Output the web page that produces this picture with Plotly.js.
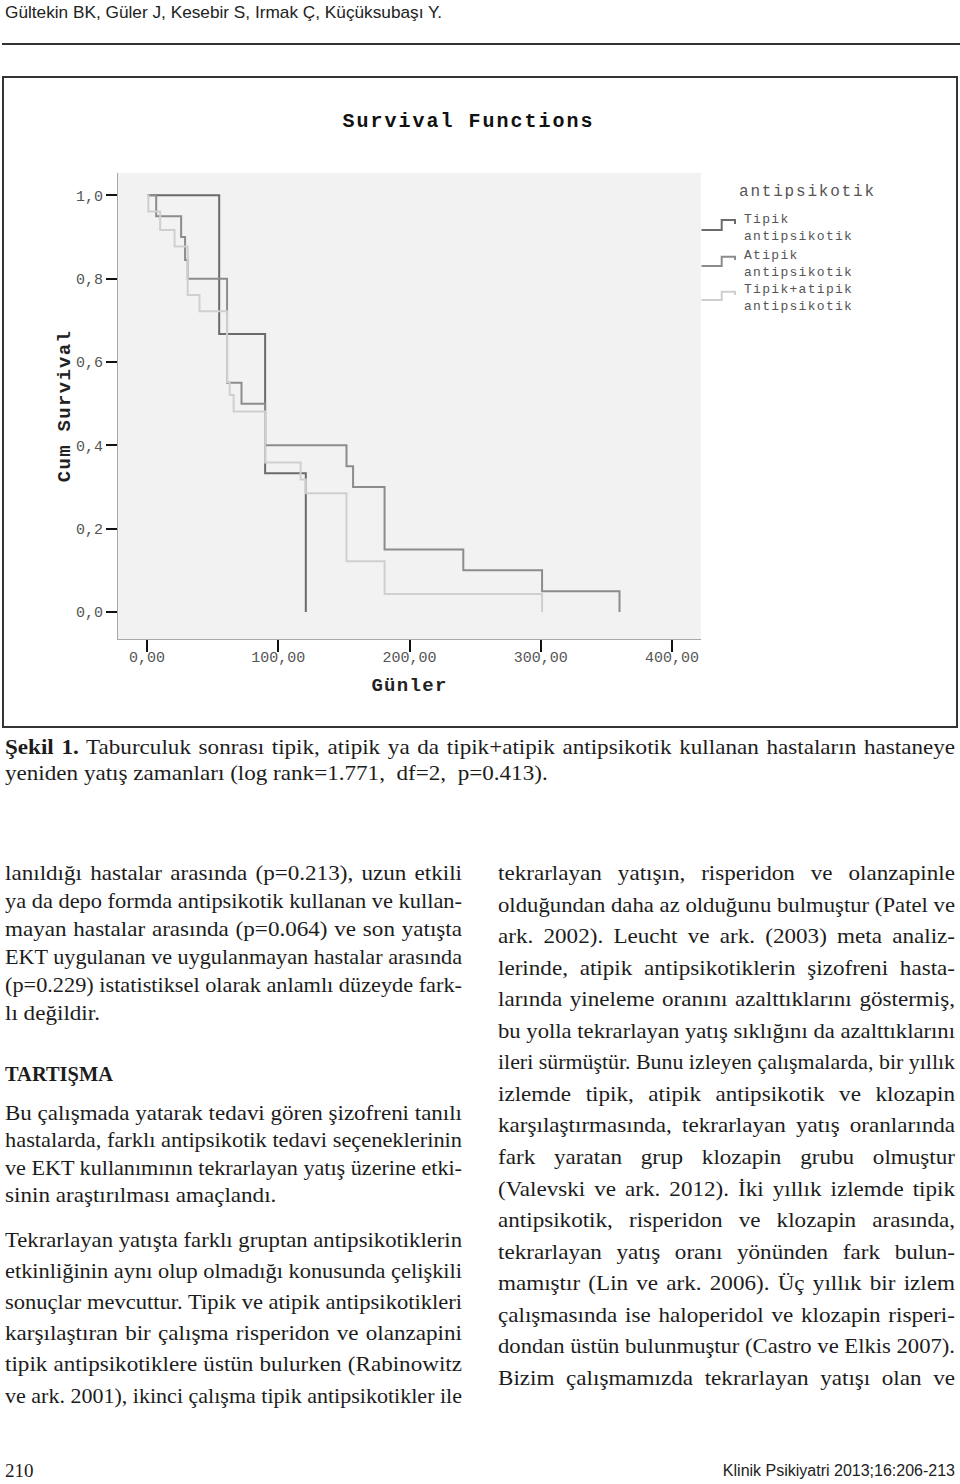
<!DOCTYPE html>
<html>
<head>
<meta charset="utf-8">
<script src="https://cdn.plot.ly/plotly-3.0.1.min.js"></script>
<style>
  html, body { margin: 0; padding: 0; background: #fff; }
  #page { position: relative; width: 960px; height: 1484px; overflow: hidden; background: #fff; }
  .ln { position: absolute; white-space: nowrap; font-family: "Liberation Serif", "Times New Roman", serif;
        font-size: 21px; line-height: 24px; height: 24px; color: #1c1c1c; transform-origin: 0 50%; }
  .sans { font-family: "Liberation Sans", Arial, sans-serif; }
  #hdrrule { position: absolute; left: 2px; top: 43px; width: 958px; height: 2px; background: #333; }
  #chart { position: absolute; left: 3px; top: 77px; width: 954px; height: 650px; }
  #frame { position: absolute; left: 2px; top: 76px; width: 956px; height: 652px; box-sizing: border-box;
           border: 2px solid #333; pointer-events: none; }
  .gtitle { letter-spacing: 2px; }
  .xtitle, .ytitle { letter-spacing: 1.3px; }
  .annotation[data-index="0"] text { letter-spacing: 1.8px; }
  .annotation[data-index="1"] text, .annotation[data-index="2"] text, .annotation[data-index="3"] text { letter-spacing: 1.3px; }
</style>
</head>
<body>
<div id="page">
  <div id="hdrrule"></div>
  <div id="chart"></div>
  <div id="frame"></div>
</div>
<script>
// ---------------- chart data ----------------
const seriesNames = ["Tipik antipsikotik", "Atipik antipsikotik", "Tipik+atipik antipsikotik"];
const seriesColors = ["#6b6b6b", "#8c8c8c", "#cfcfcf"];

const tipikDays = [0, 55, 90, 121];
const tipikSurv = [1, 0.667, 0.333, 0];

const atipikDays = [0, 7, 26, 29, 31, 61, 72, 90, 152, 157, 181, 241, 301, 360];
const atipikSurv = [1, 0.95, 0.90, 0.845, 0.80, 0.55, 0.50, 0.40, 0.35, 0.30, 0.15, 0.10, 0.05, 0];

const bothDays = [0, 1, 10, 21, 31, 40, 61, 63, 66, 90, 117, 121, 152, 181, 301];
const bothSurv = [1, 0.961, 0.917, 0.877, 0.761, 0.722, 0.552, 0.521, 0.481, 0.359, 0.318, 0.285, 0.122, 0.043, 0];

const xTickVals = [0, 100, 200, 300, 400];
const xTickText = ["0,00", "100,00", "200,00", "300,00", "400,00"];
const yTickVals = [0, 0.2, 0.4, 0.6, 0.8, 1.0];
const yTickText = ["0,0", "0,2", "0,4", "0,6", "0,8", "1,0"];

const legendTitle = "antipsikotik";
const legendLabels = ["Tipik<br>antipsikotik", "Atipik<br>antipsikotik", "Tipik+atipik<br>antipsikotik"];

// ---------------- page text ----------------
const headerText = "Gültekin BK, Güler J, Kesebir S, Irmak Ç, Küçüksubaşı Y.";
const captionLines = [
  {h: "<b>Şekil 1.</b> Taburculuk sonrası tipik, atipik ya da tipik+atipik antipsikotik kullanan hastaların hastaneye", y: 747, j: true},
  {h: "yeniden yatış zamanları (log rank=1.771,&nbsp; df=2,&nbsp; p=0.413).", y: 773, j: false}
];
const leftLines = [
  {h: "lanıldığı hastalar arasında (p=0.213), uzun etkili", y: 873, j: true},
  {h: "ya da depo formda antipsikotik kullanan ve kullan-", y: 901, j: true},
  {h: "mayan hastalar arasında (p=0.064) ve son yatışta", y: 929, j: true},
  {h: "EKT uygulanan ve uygulanmayan hastalar arasında", y: 957, j: true},
  {h: "(p=0.229) istatistiksel olarak anlamlı düzeyde fark-", y: 985, j: true},
  {h: "lı değildir.", y: 1013, j: false},
  {h: "<b>TARTIŞMA</b>", y: 1074, j: false, fit: 108},
  {h: "Bu çalışmada yatarak tedavi gören şizofreni tanılı", y: 1113, j: true},
  {h: "hastalarda, farklı antipsikotik tedavi seçeneklerinin", y: 1140, j: true},
  {h: "ve EKT kullanımının tekrarlayan yatış üzerine etki-", y: 1168, j: true},
  {h: "sinin araştırılması amaçlandı.", y: 1195, j: false},
  {h: "Tekrarlayan yatışta farklı gruptan antipsikotiklerin", y: 1240, j: true},
  {h: "etkinliğinin aynı olup olmadığı konusunda çelişkili", y: 1271, j: true},
  {h: "sonuçlar mevcuttur. Tipik ve atipik antipsikotikleri", y: 1302, j: true},
  {h: "karşılaştıran bir çalışma risperidon ve olanzapini", y: 1333, j: true},
  {h: "tipik antipsikotiklere üstün bulurken (Rabinowitz", y: 1364, j: true},
  {h: "ve ark. 2001), ikinci çalışma tipik antipsikotikler ile", y: 1396, j: true}
];
const rightText = [
  "tekrarlayan yatışın, risperidon ve olanzapinle",
  "olduğundan daha az olduğunu bulmuştur (Patel ve",
  "ark. 2002). Leucht ve ark. (2003) meta analiz-",
  "lerinde, atipik antipsikotiklerin şizofreni hasta-",
  "larında yineleme oranını azalttıklarını göstermiş,",
  "bu yolla tekrarlayan yatış sıklığını da azalttıklarını",
  "ileri sürmüştür. Bunu izleyen çalışmalarda, bir yıllık",
  "izlemde tipik, atipik antipsikotik ve klozapin",
  "karşılaştırmasında, tekrarlayan yatış oranlarında",
  "fark yaratan grup klozapin grubu olmuştur",
  "(Valevski ve ark. 2012). İki yıllık izlemde tipik",
  "antipsikotik, risperidon ve klozapin arasında,",
  "tekrarlayan yatış oranı yönünden fark bulun-",
  "mamıştır (Lin ve ark. 2006). Üç yıllık bir izlem",
  "çalışmasında ise haloperidol ve klozapin risperi-",
  "dondan üstün bulunmuştur (Castro ve Elkis 2007).",
  "Bizim çalışmamızda tekrarlayan yatışı olan ve"
];
const footerLeft = "210";
const footerRight = "Klinik Psikiyatri 2013;16:206-213";

// ---------------- text layout ----------------
const page = document.getElementById('page');
const SX = 1.1; // horizontal stretch of the body serif to match the scan's wider face
function placeLine(spec, x, W) {
  const d = document.createElement('div');
  d.className = 'ln';
  d.innerHTML = spec.h;
  d.style.left = x + 'px';
  d.style.top = (spec.y - 12) + 'px';
  page.appendChild(d);
  const w = d.getBoundingClientRect().width;
  if (spec.fit) {
    d.style.transform = 'scaleX(' + (spec.fit / w) + ')';
  } else if (spec.j) {
    const n = (d.textContent.match(/ /g) || []).length;
    if (w * SX <= W && n > 0) {
      d.style.transform = 'scaleX(' + SX + ')';
      d.style.wordSpacing = ((W / SX - w) / n) + 'px';
    } else {
      d.style.transform = 'scaleX(' + (W / w) + ')';
    }
  } else {
    d.style.transform = 'scaleX(' + SX + ')';
  }
  return d;
}
function layoutText() {
  const hd = document.createElement('div');
  hd.className = 'ln sans'; hd.textContent = headerText;
  hd.style.fontSize = '17px'; hd.style.left = '5px'; hd.style.top = (13 - 12) + 'px'; hd.style.color = '#222';
  page.appendChild(hd);
  const hw = hd.getBoundingClientRect().width;
  hd.style.transform = 'scaleX(' + (437 / hw) + ')';

  captionLines.forEach(s => placeLine(s, 5, 950));
  leftLines.forEach(s => placeLine(s, 5, 457));
  rightText.forEach((t, i) => placeLine({h: t, y: 873 + i * 31.56, j: true}, 498, 457));

  const f1 = document.createElement('div');
  f1.className = 'ln'; f1.textContent = footerLeft;
  f1.style.fontSize = '19px'; f1.style.left = '5px'; f1.style.top = (1471 - 12) + 'px';
  page.appendChild(f1);
  const f2 = document.createElement('div');
  f2.className = 'ln sans'; f2.textContent = footerRight;
  f2.style.fontSize = '16px'; f2.style.top = (1471 - 12) + 'px'; f2.style.color = '#222';
  page.appendChild(f2);
  const w2 = f2.getBoundingClientRect().width;
  f2.style.left = (955 - w2) + 'px';
}
layoutText();

// ---------------- chart ----------------
const MONO = '"Liberation Mono", "Courier New", monospace';
// page pixel -> paper coordinate helpers (plot area spans x 118..701, y 173..639 on the page)
const PL = 118, PW = 583, PT = 173, PH = 466;
const px = X => (X - PL) / PW;
const py = Y => 1 - (Y - PT) / PH;

const traces = [
  {x: tipikDays, y: tipikSurv, name: seriesNames[0], color: seriesColors[0]},
  {x: atipikDays, y: atipikSurv, name: seriesNames[1], color: seriesColors[1]},
  {x: bothDays, y: bothSurv, name: seriesNames[2], color: seriesColors[2]}
].map(s => ({
  type: 'scatter', mode: 'lines', x: s.x, y: s.y, name: s.name,
  line: {shape: 'hv', color: s.color, width: 2}, hoverinfo: 'skip'
}));

// legend: step glyphs and labels drawn as layout decorations
const iconRows = [{low: 230, high: 220, end: 224}, {low: 266, high: 256.7, end: 260}, {low: 300, high: 291.7, end: 295}];
const shapes = iconRows.map((r, i) => ({
  type: 'path', xref: 'paper', yref: 'paper',
  path: `M${px(701.5)},${py(r.low)} L${px(721.7)},${py(r.low)} L${px(721.7)},${py(r.high)} L${px(735)},${py(r.high)} L${px(735)},${py(r.end)}`,
  line: {color: seriesColors[i], width: 2}
}));
const labelCenters = [228, 263.5, 298];
const annotations = [{
  text: legendTitle, xref: 'paper', yref: 'paper', x: px(737.5), y: py(191.7),
  xanchor: 'left', yanchor: 'middle', align: 'left', showarrow: false, borderpad: 0,
  font: {family: MONO, size: 16, color: '#555'}
}];
legendLabels.forEach((t, i) => annotations.push({
  text: t, xref: 'paper', yref: 'paper', x: px(743), y: py(labelCenters[i]),
  xanchor: 'left', yanchor: 'middle', align: 'left', showarrow: false, borderpad: 0,
  font: {family: MONO, size: 13, color: '#555'}
}));

const layout = {
  width: 954, height: 650,
  margin: {l: 115, r: 256, t: 96, b: 88, pad: 0},
  paper_bgcolor: 'rgba(0,0,0,0)', plot_bgcolor: '#f2f2f2',
  showlegend: false,
  title: {text: 'Survival Functions', x: 0.488, xanchor: 'center', y: 1 - 43 / 650, yanchor: 'middle',
          font: {family: MONO, size: 20, weight: 700, color: '#111'}},
  xaxis: {
    range: [-22.1, 422.1], tickvals: xTickVals, ticktext: xTickText,
    showgrid: false, zeroline: false, showline: true, linecolor: '#a8a8a8', linewidth: 1,
    ticks: 'outside', ticklen: 12, tickwidth: 2, tickcolor: '#111', ticklabelstandoff: -8,
    tickfont: {family: MONO, size: 15, color: '#555'},
    title: {text: 'Günler', standoff: 11, font: {family: MONO, size: 19, weight: 700, color: '#222'}}
  },
  yaxis: {
    range: [-0.0648, 1.0535], tickvals: yTickVals, ticktext: yTickText,
    showgrid: false, zeroline: false, showline: true, linecolor: '#a8a8a8', linewidth: 1,
    ticks: 'outside', ticklen: 11, tickwidth: 2, tickcolor: '#111',
    tickfont: {family: MONO, size: 15, color: '#555'},
    title: {text: 'Cum Survival', standoff: 0, font: {family: MONO, size: 19, weight: 700, color: '#222'}}
  },
  shapes: shapes,
  annotations: annotations
};

Plotly.newPlot('chart', traces, layout, {staticPlot: true, displayModeBar: false});
</script>
</body>
</html>
